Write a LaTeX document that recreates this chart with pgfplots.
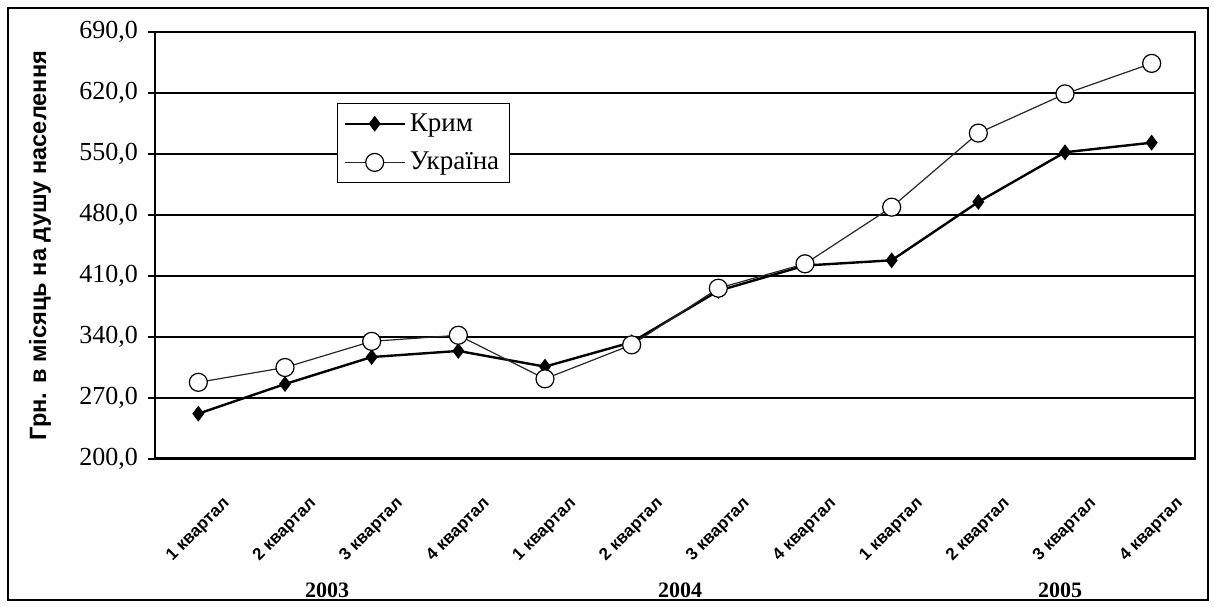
\documentclass[border=0pt]{standalone}
\usepackage{fontspec}
\setmainfont{Liberation Serif}
\newfontfamily\lsans{Liberation Sans}
\usepackage{pgfplots}
\pgfplotsset{compat=1.18}

% quarterly values, grn per month per head
\pgfplotstableread{
i krym ukr
0  252 288
1  286 305
2  317 335
3  324 342
4  306 292
5  334 331
6  393 396
7  422 424
8  428 489
9  495 574
10 552 619
11 563 654
}\quarters

\begin{document}
\begin{tikzpicture}
\begin{axis}[
    scale only axis,
    width=520pt, height=213.5pt,
    xmin=-0.5, xmax=11.5,
    ymin=200, ymax=690,
    ytick={200,270,...,690},
    xtick={0,...,11},
    xticklabels={1 квартал,2 квартал,3 квартал,4 квартал,
                 1 квартал,2 квартал,3 квартал,4 квартал,
                 1 квартал,2 квартал,3 квартал,4 квартал},
    xtick style={draw=none},
    ytick style={black, line width=0.7pt},
    major tick length=3.5pt,
    tick align=outside,
    xtick pos=bottom, ytick pos=left,
    ymajorgrids,
    major grid style={black, line width=0.7pt},
    axis line style={black, line width=0.7pt},
    /pgf/number format/.cd, fixed, fixed zerofill, precision=1, use comma,
        assume math mode=true,
    /pgfplots/.cd,
    yticklabel style={font=\fontsize{13}{15}\selectfont, xshift=-1.5pt},
    % shifts act in the rotated frame: both -22.6pt give 32pt straight down
    xticklabel style={font=\lsans\bfseries\fontsize{8.5}{10}\selectfont,
                      rotate=45, anchor=center, xshift=-22.6pt, yshift=-22.6pt},
    ylabel={Грн. в місяць на душу населення},
    ylabel style={at={(rel axis cs:0,0.5)}, anchor=center, yshift=57.5pt,
                  font=\lsans\bfseries\fontsize{11.8}{13}\selectfont},
    legend style={at={(rel axis cs:0.175,0.834)}, anchor=north west,
                  draw=black, line width=0.5pt, inner sep=3pt, row sep=5pt,
                  font=\fontsize{13.5}{15}\selectfont, cells={anchor=west}},
    legend image code/.code={
        \draw[mark repeat=2, mark phase=2]
            plot coordinates {(0pt,0pt) (15pt,0pt) (30pt,0pt)};},
]
\addplot[black, line width=1.2pt, mark=diamond*, mark size=3pt,
         mark options={solid, fill=black}]
    table[x=i, y=krym] {\quarters};
\addlegendentry{Крим}
\addplot[black!85, line width=0.6pt, mark=*, mark size=4.5pt,
         mark options={solid, fill=white, draw=black, line width=0.6pt}]
    table[x=i, y=ukr] {\quarters};
\addlegendentry{Україна}
\draw[black, line width=1.5pt]
    (rel axis cs:0,1) -- (rel axis cs:0,0) -- (rel axis cs:1,0);
\end{axis}
% year captions under the quarter labels
\begin{scope}[font=\bfseries\fontsize{11}{13}\selectfont]
\node at (86pt,-65.5pt) {2003};
\node at (262.5pt,-65.5pt) {2004};
\node at (452.5pt,-65.5pt) {2005};
\end{scope}
\draw[black, line width=0.8pt] (-73.5pt,-70.5pt) rectangle (526.5pt,225.5pt);
\pgfresetboundingbox
\path[use as bounding box] (-77.5pt,-75.5pt) rectangle (530pt,229.5pt);
\end{tikzpicture}
\end{document}
